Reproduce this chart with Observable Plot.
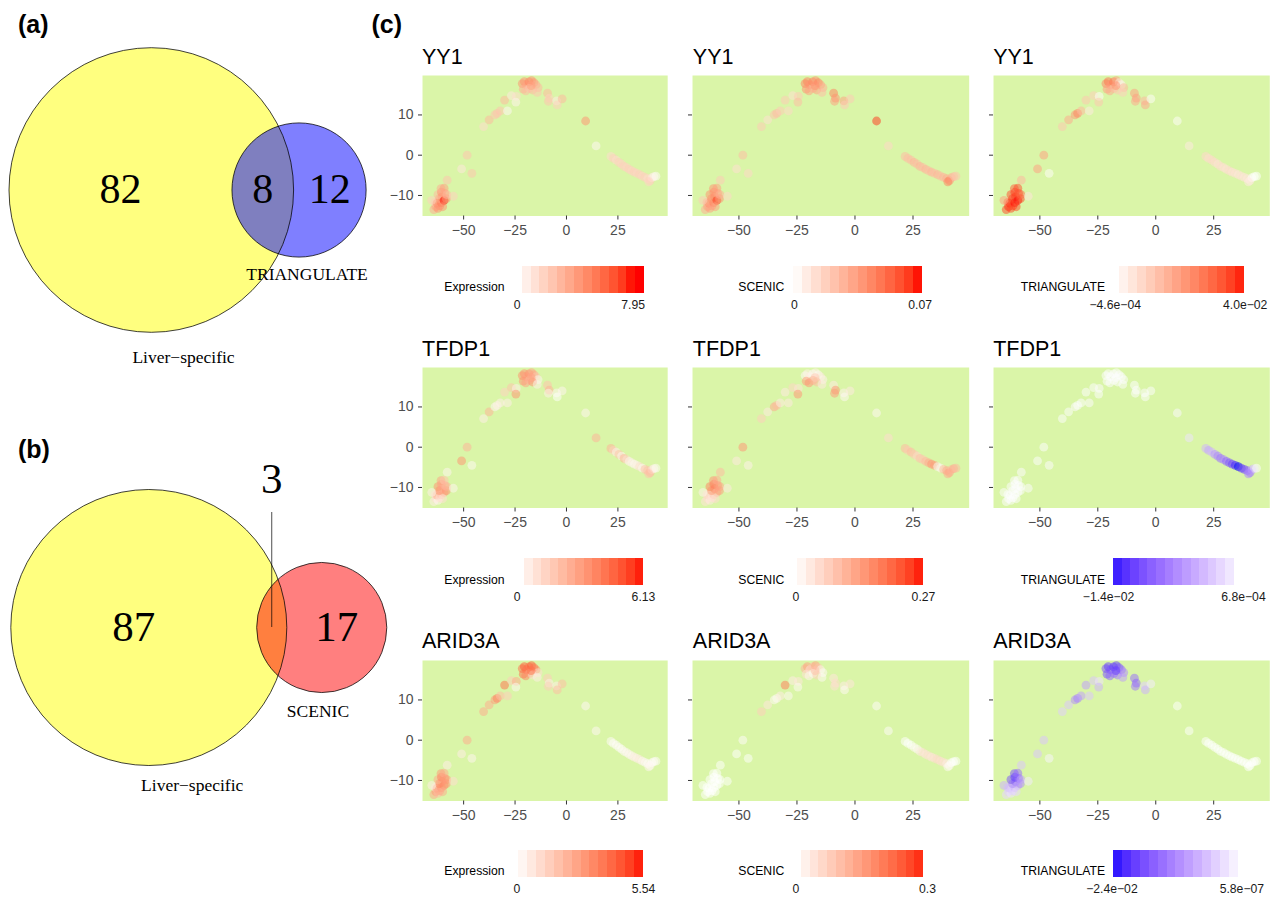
<!DOCTYPE html>
<html><head><meta charset="utf-8">
<script src="https://cdn.jsdelivr.net/npm/d3@7"></script>
<script src="https://cdn.jsdelivr.net/npm/@observablehq/plot@0.6"></script>
<style>
body{margin:0;background:#fff;}
#root{position:relative;width:1277px;height:897px;overflow:hidden;background:#fff;font-family:"Liberation Sans",Arial,sans-serif;}
</style></head><body><div id="root"></div>
<script>
// ---------------- DATA ----------------
// Venn (a)
const vennASets = ["Liver\u2212specific", "TRIANGULATE"];
const vennACounts = [82, 8, 12];
// Venn (b)
const vennBSets = ["Liver\u2212specific", "SCENIC"];
const vennBCounts = [87, 3, 17];

// shared embedding coordinates (tSNE-like)
const ptX = [-64.5,-63.5,-62.5,-63.8,-62.9,-61.6,-60.8,-61.8,-60.5,-59.5,-58.4,-62.5,-60.8,-59.2,-61.0,-59.5,-58.2,-65.5,-60.2,-55.0,-58.0,
  -51.0,-46.0,-48.3,
  -40.3,-37.6,-34.8,-33.7,-32.2,-28.7,-30.1,-26.8,-24.4,-24.6,
  -21.5,-20.5,-19.5,-18.2,-17.0,-15.8,-14.8,-13.8,-21.0,-19.8,-18.0,-16.5,-14.2,-17.2,
  -9.2,-8.4,-8.8,-4.8,-4.5,-2.1,
  9.3,14.4,
  21.6,22.8,24.2,25.5,26.8,28.0,29.3,30.5,31.8,33.0,34.3,35.6,36.9,38.2,39.5,40.7,41.5,42.5,43.5,40.0];
const ptY = [-13.5,-12.8,-13.2,-11.7,-11.9,-12.6,-11.8,-10.8,-10.3,-11.2,-10.8,-9.8,-9.2,-9.5,-8.3,-8.2,-9.8,-11.2,-12.8,-10.2,-6.2,
  -3.4,-4.5,0.0,
  7.1,8.8,10.0,10.4,11.0,11.0,13.7,14.8,14.6,13.2,
  17.8,18.3,17.5,18.2,18.5,18.0,17.5,16.8,16.4,16.0,16.6,16.2,15.6,17.3,
  15.4,14.2,13.4,13.5,12.5,14.0,
  8.5,2.3,
  -0.3,-0.8,-1.2,-1.8,-2.2,-2.8,-3.1,-3.5,-3.9,-4.2,-4.5,-4.8,-5.2,-5.5,-5.8,-6.3,-5.6,-5.3,-5.2,-6.6];

const yy1Expr = [3.5,4,4.5,2.5,5,4.5,5.5,4,5,7.9,4.5,3,4.5,4,3.5,4,3,2,4.5,2,2.5,
  1,2.5,2.5,
  1.5,3,2.5,2.5,2.5,0.3,3,1,1.5,0.5,
  4.5,4.5,4,5,4.5,4.5,3.5,3,3.5,3,2.5,3,2.5,4,
  3,2,2.5,0.8,2,3,
  4.5,0.3,
  1.5,2,1.5,2,1.8,2,1.8,2,1.8,2,1.8,2,1.8,2,1.5,2.2,1,0.5,0.2,1.8];
const yy1Scenic = [0.03,0.035,0.035,0.03,0.04,0.035,0.045,0.04,0.045,0.065,0.04,0.04,0.04,0.035,0.04,0.035,0.03,0.02,0.035,0.015,0.02,
  0.012,0.015,0.025,
  0.02,0.012,0.022,0.025,0.02,0.015,0.02,0.012,0.02,0.025,
  0.045,0.045,0.04,0.045,0.04,0.045,0.035,0.03,0.04,0.035,0.03,0.035,0.025,0.04,
  0.045,0.04,0.035,0.035,0.02,0.02,
  0.065,0.015,
  0.025,0.025,0.025,0.028,0.025,0.028,0.025,0.028,0.025,0.028,0.025,0.028,0.025,0.028,0.03,0.04,0.03,0.025,0.022,0.045];
const yy1Tri = [0.035,0.038,0.035,0.03,0.038,0.035,0.04,0.036,0.038,0.04,0.035,0.034,0.036,0.035,0.032,0.034,0.03,0.02,0.035,0.005,0.015,
  0.02,0,0.02,
  0.012,0.018,0.022,0.025,0.015,0.004,0.012,0.01,0,0.012,
  0.025,0.028,0.022,0.028,0.02,0.005,0.002,0.015,0.02,0.018,0.015,0.012,0.01,0.022,
  0.02,0.02,0.018,0.015,0.018,0,
  0,0.004,
  0.008,0.007,0.008,0.007,0.006,0.007,0.006,0.006,0.007,0.006,0.006,0.005,0.006,0.005,0.005,0.004,0,-0.0004,-0.0004,0.004];
const tfdp1Expr = [0.5,1,0.3,1.5,2.5,1,2,3.5,2.5,3,3.5,3.5,3,2.5,3,2,2.5,0.5,1,0.3,0.3,
  3.5,0.2,2.5,
  0.5,2.5,0.3,0.5,0.5,0.5,1.5,2,0.5,3.5,
  3.5,3.5,3,3.5,3,3,2,0.3,3.5,3,2.5,3.5,0.5,3,
  2,2.5,0.5,0.3,0,0.3,
  0.3,2.5,
  2.5,1.5,0.5,2,0.3,2.5,1,0.3,0.5,0.3,0.5,1,0.3,2,2,2.5,1,0.3,0.2,2];
const tfdp1Scenic = [0.04,0.05,0.03,0.06,0.05,0.04,0.08,0.14,0.16,0.12,0.14,0.17,0.18,0.15,0.15,0.12,0.13,0.02,0.05,0.03,0.1,
  0.03,0.02,0.15,
  0.07,0.03,0.12,0.1,0.03,0.03,0.03,0.06,0.04,0.15,
  0.01,0.02,0.03,0.01,0.02,0.01,0.03,0.02,0.14,0.15,0.12,0.1,0.03,0.08,
  0.03,0.15,0.14,0.02,0.01,0.03,
  0.01,0.05,
  0.1,0.08,0.1,0.08,0.06,0.09,0.08,0.1,0.12,0.15,0.14,0.01,0.02,0.1,0.12,0.13,0.1,0.12,0.1,0.12];
const tfdp1Tri = [0.0006,0.0006,0.0006,0.0006,0.0006,0.0006,0.0006,0.0006,0.0006,0.0006,0.0006,0.0006,0.0006,0.0006,0.0006,0.0006,0.0006,0.0006,0.0006,0.0005,0.0005,
  0.0006,0.0005,0.0006,
  0.0006,0.0006,0.0005,0.0006,0.0006,0.0005,0.0006,0.0006,0.0005,0.0006,
  0.0006,0.0006,0.0006,0.0006,0.0006,0.0006,0.0006,0.0006,0.0006,0.0006,0.0006,0.0006,0.0006,0.0006,
  0.0006,0.0006,0.0006,0.0005,0.0006,0.0006,
  0.0004,-0.001,
  -0.004,-0.005,-0.004,-0.006,-0.007,-0.008,-0.007,-0.009,-0.01,-0.011,-0.013,-0.014,-0.012,-0.011,-0.009,-0.008,-0.005,-0.002,0.0006,-0.007];
const arid3aExpr = [2.5,3,2,1,3,2.5,3,3.5,3,3.5,3,2.5,3.5,3,3,2.5,3,0.5,2.5,1,0.5,
  0.5,0.3,2.5,
  2.5,2.5,3,3.5,2,1.5,4,1.5,2.5,0.2,
  4,4.5,4,4,4.5,4,3.5,1,4,3.5,3,1,0.5,4,
  1.5,0.5,1.5,0.5,2,2,
  0.2,0.2,
  0.1,0.1,0.1,0.1,0.1,0.2,0.2,0.3,0.3,0.5,0.4,0.6,0.3,0.2,0.1,0.2,0.1,0.1,0.1,0.3];
const arid3aScenic = [0,0,0,0,0,0,0,0,0,0,0,0,0,0,0,0,0,0,0,0,0,
  0,0,0.005,
  0.08,0.04,0.01,0.01,0.03,0.01,0.2,0.03,0.04,0.01,
  0.12,0.15,0.05,0.1,0.15,0.1,0.02,0.01,0.05,0.02,0.01,0.08,0.01,0.1,
  0.04,0.06,0.05,0.03,0.01,0.04,
  0.005,0.005,
  0,0,0,0.01,0.01,0.03,0.05,0.04,0.05,0.04,0.05,0.06,0.05,0.05,0.03,0.01,0,0,0,0.01];
const arid3aTri = [-0.004,-0.005,-0.003,-0.006,-0.006,-0.005,-0.008,-0.012,-0.015,-0.01,-0.012,-0.018,-0.02,-0.016,-0.018,-0.015,-0.01,-0.008,-0.004,-0.002,-0.006,
  -0.006,-0.001,-0.006,
  -0.005,-0.006,-0.012,-0.013,-0.01,-0.006,-0.01,-0.006,-0.003,-0.008,
  -0.018,-0.02,-0.018,-0.02,-0.02,-0.018,-0.015,-0.012,-0.018,-0.016,-0.015,-0.014,-0.01,-0.02,
  -0.015,-0.016,-0.014,-0.005,-0.008,-0.002,
  0,0,
  0,0,0,0,0,0,0,0,0,0,0,0,0,0,0,0,0,0,0,0];

const genes = ["YY1", "TFDP1", "ARID3A"];
const methods = ["Expression", "SCENIC", "TRIANGULATE"];
const panelValues = [[yy1Expr, yy1Scenic, yy1Tri], [tfdp1Expr, tfdp1Scenic, tfdp1Tri], [arid3aExpr, arid3aScenic, arid3aTri]];
const legendLo = [[0, 0, -4.6e-4], [0, 0, -1.4e-2], [0, 0, -2.4e-2]];
const legendHi = [[7.95, 0.07, 4.0e-2], [6.13, 0.27, 6.8e-4], [5.54, 0.3, 5.8e-7]];
const legendLabels = [
  [["0", "7.95"], ["0", "0.07"], ["\u22124.6e\u221204", "4.0e\u221202"]],
  [["0", "6.13"], ["0", "0.27"], ["\u22121.4e\u221202", "6.8e\u221204"]],
  [["0", "5.54"], ["0", "0.3"], ["\u22122.4e\u221202", "5.8e\u221207"]]];
const palettes = [["red", "red", "red"], ["red", "red", "blue"], ["red", "red", "blue"]];
const xTicks = [-50, -25, 0, 25];
const yTicks = [-10, 0, 10];

// ---------------- LAYOUT ----------------
const SANS = "Liberation Sans, Arial, Helvetica, sans-serif";
const SERIF = "Liberation Serif, Times New Roman, serif";
const BG = "#DAF5A8";
const root = document.getElementById("root");
const xDom = [-70, 49.2], yDom = [-15.1, 19.8];
const colL = [421.5, 692.3, 992.7], colW = [245.2, 276.7, 276.3];
const rowT = [75, 367.3, 660], plotH = 140.5;
const titleBase = [64, 356, 648.3];
const legTop = [266, 558.3, 850], legH = 26.7;
const legBar = [[[522.3,644],[793.3,922.7],[1119.3,1244]],[[524,643.3],[796.7,922.7],[1113.3,1234]],[[518.3,643.3],[800.7,922.7],[1113.3,1238.3]]];
const legLab = [[[517,633],[794.3,920],[1115,1245]],[[516.7,643],[795,922.7],[1108.3,1243.3]],[[516.7,643.3],[795,926.7],[1111.7,1241.7]]];
const legTitleX = [444.3, 738.3, 1020.7];

function place(el, left, top) {
  el.style.position = "absolute"; el.style.left = left + "px"; el.style.top = top + "px";
  root.appendChild(el);
}
const fmtMinus = d => d < 0 ? "\u2212" + Math.abs(d) : String(d);
function colorFor(r, c) {
  const pal = palettes[r][c];
  return {type: "linear", domain: [legendLo[r][c], legendHi[r][c]],
    range: pal === "red" ? ["white", "red"] : ["blue", "white"], interpolate: "lab", clamp: true};
}

// ---------------- VENN ----------------
function lensArea(r1, r2, d) {
  if (d >= r1 + r2) return 0;
  if (d <= Math.abs(r1 - r2)) return Math.PI * Math.min(r1, r2) ** 2;
  const a1 = r1 * r1 * Math.acos((d * d + r1 * r1 - r2 * r2) / (2 * d * r1));
  const a2 = r2 * r2 * Math.acos((d * d + r2 * r2 - r1 * r1) / (2 * d * r2));
  const k = 0.5 * Math.sqrt((-d + r1 + r2) * (d + r1 - r2) * (d - r1 + r2) * (d + r1 + r2));
  return a1 + a2 - k;
}
function venn(opt) {
  const {top, W, H, R, cx1, cy, counts, names, colors, numSize, catOff} = opt;
  const sizes = [counts[0] + counts[1], counts[1] + counts[2]];
  const r1 = R, r2 = R * Math.sqrt(sizes[1] / sizes[0]);
  const target = counts[1] / sizes[0] * Math.PI * r1 * r1;
  let lo = Math.abs(r1 - r2), hi = r1 + r2;
  for (let k = 0; k < 60; k++) { const m = (lo + hi) / 2; if (lensArea(r1, r2, m) > target) lo = m; else hi = m; }
  const cx2 = cx1 + (lo + hi) / 2;
  const c1 = {x: cx1, y: cy, s: sizes[0]}, c2 = {x: cx2, y: cy, s: sizes[1]};
  const leftA = cx1 - r1, rightA = cx1 + r1, leftB = cx2 - r2, rightB = cx2 + r2;
  const overlapW = rightA - leftB;
  const inside = overlapW > 45;
  const bothX = (leftB + rightA) / 2;
  const regions = [
    {x: (leftA + leftB) / 2, y: cy, t: String(counts[0])},
    {x: bothX, y: inside ? cy : cy - 148, t: String(counts[1])},
    {x: (rightA + rightB) / 2, y: cy, t: String(counts[2])}];
  const cats = [
    {x: cx1 + catOff[0][0], y: cy + r1 + catOff[0][1], t: names[0]},
    {x: cx2 + catOff[1][0], y: cy + r2 + catOff[1][1], t: names[1]}];
  const marks = [
    Plot.dot([c1], {x: "x", y: "y", r: "s", fill: colors[0], fillOpacity: 0.5, stroke: "none"}),
    Plot.dot([c2], {x: "x", y: "y", r: "s", fill: colors[1], fillOpacity: 0.5, stroke: "none"}),
    Plot.dot([c1, c2], {x: "x", y: "y", r: "s", fill: "none", stroke: "black", strokeWidth: 0.75, sort: null}),
    Plot.text(regions, {x: "x", y: "y", text: "t", fontFamily: SERIF, fontSize: numSize, fill: "black", lineAnchor: "middle"}),
    Plot.text(cats, {x: "x", y: "y", text: "t", fontFamily: SERIF, fontSize: 17.5, fill: "black", lineAnchor: "middle"})
  ];
  if (!inside) marks.push(Plot.ruleX([bothX], {y1: cy - 115, y2: cy, stroke: "black", strokeWidth: 0.7}));
  const chart = Plot.plot({
    width: W, height: H, marginLeft: 0, marginRight: 0, marginTop: 0, marginBottom: 0,
    style: {background: "none", overflow: "visible"},
    x: {domain: [0, W], range: [0, W], axis: null},
    y: {domain: [0, H], range: [0, H], axis: null},
    r: {type: "sqrt", domain: [0, sizes[0]], range: [0, R]},
    marks
  });
  place(chart, 0, top);
}
venn({top: 0, W: 380, H: 400, R: 142.3, cx1: 150.8, cy: 189.5, counts: vennACounts, names: vennASets,
  colors: ["yellow", "blue"], numSize: 42, catOff: [[32.2, 25.3], [8, 17.1]]});
venn({top: 420, W: 400, H: 400, R: 138, cx1: 148.3, cy: 207, counts: vennBCounts, names: vennBSets,
  colors: ["yellow", "red"], numSize: 43, catOff: [[43.4, 20.1], [-3.8, 18.6]]});

// ---------------- SCATTER PANELS ----------------
const ML = 45, MR = 6, MT = 6, MB = 30;
const idx = ptX.map((_, i) => i);
for (let r = 0; r < 3; r++) {
  for (let c = 0; c < 3; c++) {
    const vals = panelValues[r][c];
    const chart = Plot.plot({
      width: colW[c] + ML + MR, height: plotH + MT + MB,
      marginLeft: ML, marginRight: MR, marginTop: MT, marginBottom: MB,
      style: {background: "none", fontFamily: SANS, overflow: "visible"},
      x: {domain: xDom}, y: {domain: yDom},
      color: colorFor(r, c),
      marks: [
        Plot.frame({fill: BG, stroke: "none"}),
        Plot.dot(idx, {x: i => ptX[i], y: i => ptY[i], fill: i => vals[i], r: 4.4, fillOpacity: 0.5, stroke: "none"}),
        Plot.axisX({ticks: xTicks, tickSize: 4, tickPadding: 5, fontSize: 14, fill: "#4d4d4d", stroke: "#333", tickFormat: fmtMinus, label: null}),
        Plot.axisY({ticks: yTicks, tickSize: 4, tickPadding: 5, fontSize: 14, fill: "#4d4d4d", stroke: "#333", tickFormat: c === 0 ? fmtMinus : () => "", label: null})
      ]
    });
    place(chart, colL[c] - ML, rowT[r] - MT);

    // legend colour bar
    const lo = legendLo[r][c], hi = legendHi[r][c];
    const [bL, bR] = legBar[r][c];
    const [l0, l1] = legLab[r][c];
    const svgL = bL - 45;
    const toVal = px => lo + (px - l0) / (l1 - l0) * (hi - lo);
    const vL = toVal(bL), vR = toVal(bR);
    const nb = 14;
    const bins = d3.range(nb).map(k => ({a: vL + (vR - vL) * k / nb, b: vL + (vR - vL) * (k + 1) / nb}));
    const labs = legendLabels[r][c];
    const leg = Plot.plot({
      width: (bR - bL) + 90, height: legH + 24,
      marginLeft: 0, marginRight: 0, marginTop: 0, marginBottom: 24,
      style: {background: "none", fontFamily: SANS, overflow: "visible"},
      x: {domain: [lo, hi], range: [l0 - svgL, l1 - svgL]},
      color: colorFor(r, c),
      marks: [
        Plot.rectX(bins, {x1: "a", x2: "b", fill: d => (d.a + d.b) / 2, shapeRendering: "crispEdges"}),
        Plot.axisX({ticks: [lo, hi], tickSize: 0, tickPadding: 7, fontSize: 12.2, fill: "#1a1a1a", stroke: "none",
          tickFormat: d => d === lo ? labs[0] : labs[1], label: null})
      ]
    });
    place(leg, svgL, legTop[r]);
  }
}

// ---------------- TEXT OVERLAY ----------------
const ov = d3.create("svg").attr("width", 1277).attr("height", 897)
  .style("position", "absolute").style("left", "0px").style("top", "0px").style("pointer-events", "none");
const letters = [{t: "(a)", x: 18, y: 33}, {t: "(b)", x: 18, y: 458}, {t: "(c)", x: 371.5, y: 33}];
letters.forEach(l => ov.append("text").attr("x", l.x).attr("y", l.y).attr("font-family", SANS)
  .attr("font-weight", "bold").attr("font-size", 25).attr("fill", "black").text(l.t));
for (let r = 0; r < 3; r++) for (let c = 0; c < 3; c++) {
  ov.append("text").attr("x", colL[c] + 0.5).attr("y", titleBase[r]).attr("font-family", SANS)
    .attr("font-size", 21.5).attr("fill", "black").text(genes[r]);
  ov.append("text").attr("x", legTitleX[c]).attr("y", legTop[r] + legH - 1.5).attr("font-family", SANS)
    .attr("font-size", 12.2).attr("fill", "black").text(methods[c]);
}
root.appendChild(ov.node());
</script></body></html>
